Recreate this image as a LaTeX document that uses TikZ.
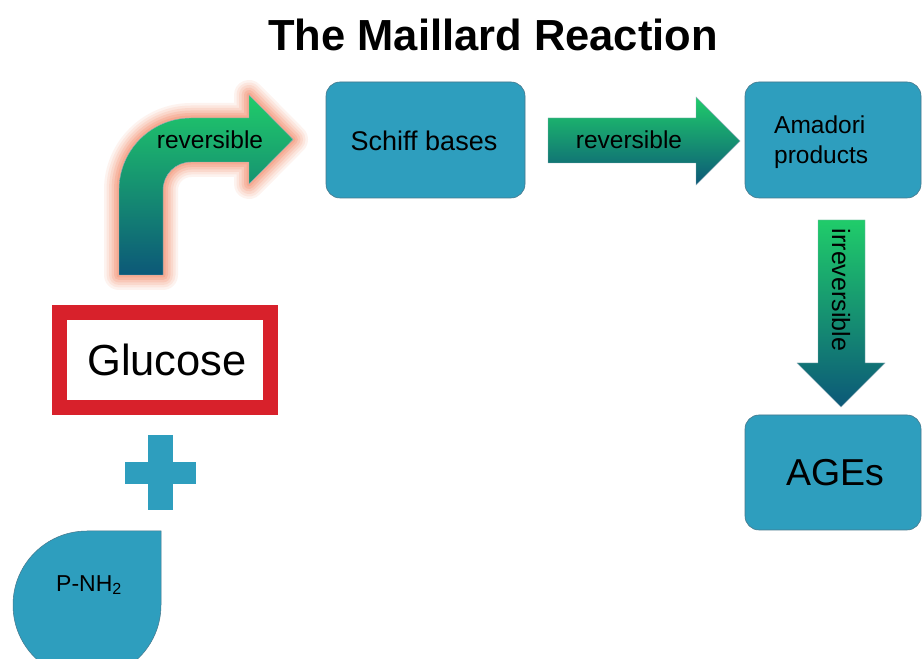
\documentclass[tikz,border=0pt]{standalone}
\usepackage{fontspec}
\setmainfont{Liberation Sans}
\definecolor{boxfill}{RGB}{46,158,190}
\definecolor{boxline}{RGB}{70,120,140}
\definecolor{agreen}{RGB}{32,204,106}
\definecolor{ateal}{RGB}{12,88,120}
\definecolor{gred}{RGB}{216,33,43}
\definecolor{glow}{RGB}{245,140,105}
\tikzset{
  stagebox/.style={draw=boxline, line width=0.6pt, fill=boxfill, rounded corners=14pt},
  arrowshade/.style={top color=agreen, bottom color=ateal, draw=boxline!60, line width=0.4pt},
  lbl/.style={inner sep=0pt, text=black},
}
\newcommand{\fs}[1]{\fontsize{#1}{#1}\selectfont}
\begin{document}
\begin{tikzpicture}[x=1pt,y=1pt]
\clip (0,0) rectangle (922,659);
\fill[white] (0,0) rectangle (922,659);

% title
\node[lbl, font=\bfseries\fs{43.5}] (title) at (493,624) {The Maillard Reaction};

% boxes
\node[stagebox, minimum width=199pt, minimum height=116pt] (schiff) at (425.5,519) {};
\node[lbl, font=\fs{27}] (schifft) at (424,518) {Schiff bases};
\node[stagebox, minimum width=176pt, minimum height=116pt] (amadori) at (833,519) {};
\node[lbl, font=\fs{24.5}, align=left, anchor=west] (amadorit) at (774,517) {Amadori\\[5pt]products};
\node[stagebox, minimum width=176pt, minimum height=115pt] (ages) at (833,186.5) {};
\node[lbl, font=\fs{37.5}] (agest) at (835,186) {AGEs};

% glucose
\node[draw=gred, line width=15pt, fill=white, minimum width=211pt, minimum height=95pt, inner sep=0pt] (glucose) at (165,299) {};
\node[lbl, font=\fs{43.5}] (glucoset) at (167,299) {Glucose};

% plus
\fill[boxfill] (125,175) rectangle (196,197);
\fill[boxfill] (148,149) rectangle (173,224);
\coordinate (plus) at (160.5,186);

% teardrop
\fill[boxfill, draw=boxline, line width=0.5pt] (161,128) -- (161,54) arc[start angle=0,end angle=-180,radius=74] arc[start angle=180,end angle=90,radius=74] -- cycle;
\node[lbl, font=\fs{23}] (pnh) at (89,74) {P-NH\textsubscript{2}};

% bent arrow with glow
\def\bentpath{(119,384) -- (119,469) arc[start angle=180,end angle=90,radius=72] -- (249,541) -- (249,564) -- (293,519.5) -- (249,475) -- (249,497) -- (191,497) arc[start angle=90,end angle=180,radius=28] -- (163,384) -- cycle}
\foreach \w/\o in {30/0.10,25/0.12,20/0.15,15/0.2,10/0.25,5/0.3}{
  \draw[glow, line width=\w pt, opacity=\o, line join=round] \bentpath;
}
\shade[arrowshade] \bentpath;
\node[lbl, font=\fs{24.5}] (rev1) at (210,519) {reversible};

% straight arrow
\shade[arrowshade] (548,496) -- (696,496) -- (696,474) -- (740,518) -- (696,562) -- (696,541) -- (548,541) -- cycle;
\node[lbl, font=\fs{24.5}] (rev2) at (629,519) {reversible};

% down arrow
\shade[arrowshade] (818,439) -- (865,439) -- (865,296) -- (885,296) -- (841,252) -- (797,296) -- (818,296) -- cycle;
\node[lbl, font=\fs{25}, rotate=-90] (irr) at (841,369) {irreversible};
\end{tikzpicture}
\end{document}
